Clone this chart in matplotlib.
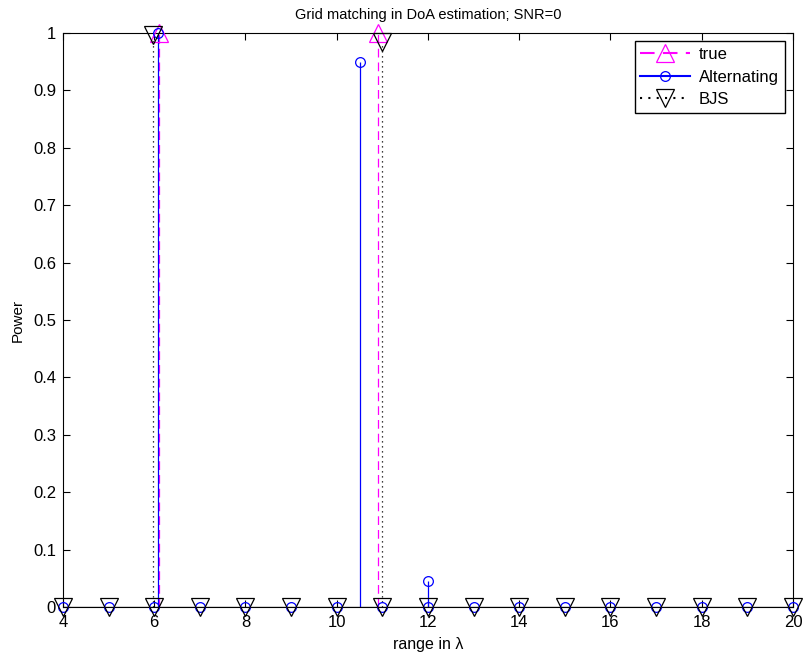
import numpy as np
import matplotlib.pyplot as plt

plt.rcParams['font.family'] = ['Liberation Sans', 'DejaVu Sans']
plt.rcParams['font.size'] = 12

# grid points (all zero except the estimated peaks)
grid = np.arange(4, 21)

true_x = [6.1, 10.9]
true_y = [1.0, 1.0]

alt_x = list(grid) + [6.08, 10.5, 12.0]
alt_y = [0.0] * len(grid) + [1.0, 0.95, 0.045]

bjs_x = list(grid) + [5.98, 11.0]
bjs_y = [0.0] * len(grid) + [0.997, 0.985]

fig = plt.figure(figsize=(8.04, 6.57), dpi=100)
ax = fig.add_axes([63 / 804, 1 - 607 / 657, 730 / 804, 574 / 657])


def stem(x, y, color, ls, marker, ms, label):
    ax.vlines(x, 0, y, colors=color, linestyles=ls, linewidth=0.9)
    ax.plot(x, y, linestyle='none', marker=marker, ms=ms, mfc='none',
            mec=color, mew=0.9, clip_on=False, zorder=3)
    ax.plot([], [], color=color, linestyle=ls, marker=marker, ms=ms,
            mfc='none', mec=color, mew=0.9, label=label)


stem(true_x, true_y, 'magenta', (0, (7, 4)), '^', 13, 'true')
stem(alt_x, alt_y, 'blue', '-', 'o', 7, 'Alternating')
stem(bjs_x, bjs_y, 'black', (0, (1, 3)), 'v', 13, 'BJS')
ax.axhline(0, color='black', linewidth=0.9)

ax.set_xlim(4, 20)
ax.set_ylim(0, 1)
ax.set_xticks(np.arange(4, 21, 2))
ax.set_yticks(np.round(np.arange(0, 1.01, 0.1), 1))
ax.set_yticklabels(['0', '0.1', '0.2', '0.3', '0.4', '0.5', '0.6', '0.7', '0.8', '0.9', '1'])
ax.tick_params(direction='in', top=True, right=True, length=5, width=0.8,
               labelsize=12)
ax.tick_params(axis='x', pad=6)
ax.tick_params(axis='y', pad=5)
for s in ax.spines.values():
    s.set_linewidth(0.8)

ax.set_title('Grid matching in DoA estimation; SNR=0', fontsize=10.5, pad=10)
ax.set_xlabel('range in λ', fontsize=11.5, labelpad=5)
ax.set_ylabel('Power', fontsize=11, labelpad=6)
ax.legend(loc='upper right', numpoints=1, fancybox=False, edgecolor='black',
          framealpha=1, handlelength=3.0, borderaxespad=0.5, fontsize=12,
          labelspacing=0.45, borderpad=0.35, handletextpad=0.5)

fig.savefig('out.png', dpi=100)
